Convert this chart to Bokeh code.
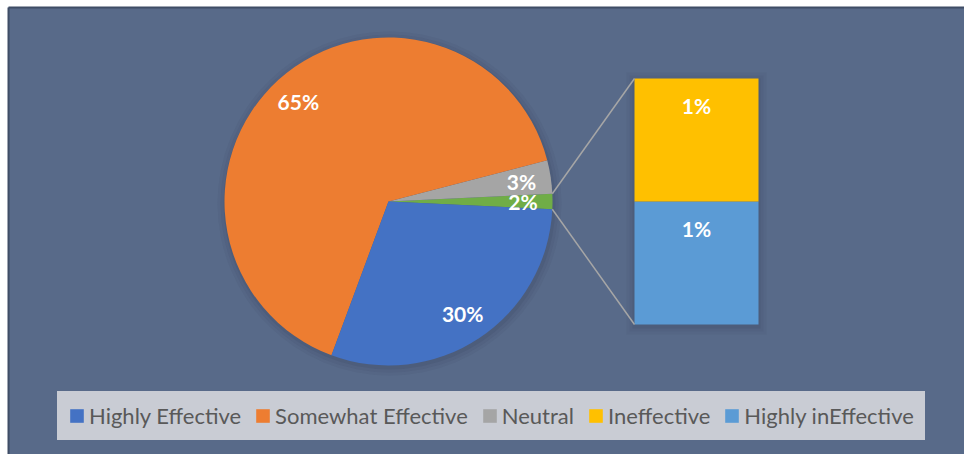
import math
from bokeh.plotting import figure
from bokeh.models import ColumnDataSource, Legend, LegendItem, Range1d
from bokeh.core.properties import value
from bokeh.embed import file_html
from bokeh.resources import INLINE

# ---- data ----
categories = ["Highly Effective", "Somewhat Effective", "Neutral", "Ineffective", "Highly inEffective"]
shares = [29.9, 65.3, 3.3, 0.75, 0.75]
colors = ["#4472c4", "#ed7d31", "#a5a5a5", "#ffc000", "#5b9bd5"]
other_color = "#70ad47"
pie_idx = [0, 1, 2]      # in pie
bar_idx = [4, 3]         # in the bar, bottom -> top

# ---- layout constants ----
W, H = 964, 454
CX, CY, R = 388, H - 201, 164
LABEL_R = 0.82 * R
BAR_LEFT, BAR_W = 634, 124
BAR_BOTTOM, BAR_H = H - 324, 246
FONT = value("Lato")
LEG_BG = "#c9ccd4"

total = sum(shares)
other = sum(shares[i] for i in bar_idx)

def pct(v):
    return f"{int(v / total * 100 + 0.5)}%"

# pie slices counterclockwise starting with the "other" slice centred at 0 deg
slice_vals = [other, shares[2], shares[1], shares[0]]
slice_cols = [other_color, colors[2], colors[1], colors[0]]
starts, ends = [], []
a = -other / total * math.pi
for v in slice_vals:
    starts.append(a)
    a += v / total * 2 * math.pi
    ends.append(a)
mids = [(s + e) / 2 for s, e in zip(starts, ends)]
pie_src = ColumnDataSource(dict(
    start=starts, end=ends, color=slice_cols,
    lx=[CX + LABEL_R * math.cos(m) for m in mids],
    ly=[CY + LABEL_R * math.sin(m) for m in mids],
    label=[pct(v) for v in slice_vals],
))

p = figure(width=W, height=H, x_range=Range1d(0, W), y_range=Range1d(0, H),
           output_backend="svg", toolbar_location=None, min_border=0)
p.axis.visible = False
p.grid.visible = False
p.outline_line_color = None
p.background_fill_color = "white"
p.border_fill_color = "white"

# panel
p.quad(left=8, right=W, bottom=0, top=H - 7, fill_color="#586a89", line_color=None)
p.segment(x0=[8, 8], y0=[H - 7, 0], x1=[W, 8], y1=[H - 7, H - 7], line_color="#3f4d66", line_width=2)

# soft shadows
for k, al in [(8, 0.05), (5, 0.06), (2, 0.08)]:
    p.circle(x=CX + 1, y=CY - 2, radius=R + k, fill_color="#1f2a3d", fill_alpha=al, line_color=None)
    p.quad(left=BAR_LEFT - k, right=BAR_LEFT + BAR_W + k, bottom=BAR_BOTTOM - k - 2, top=BAR_BOTTOM + BAR_H + k - 2,
           fill_color="#1f2a3d", fill_alpha=al, line_color=None)

wedges = p.wedge(x=CX, y=CY, radius=R, start_angle="start", end_angle="end",
                 fill_color="color", line_color=None, source=pie_src)
p.text(x="lx", y="ly", text="label", source=pie_src, text_align="center", text_baseline="middle",
       text_font=FONT, text_font_style="bold", text_font_size="21px", text_color="white")

# bar of pie
bots, tops = [], []
b = BAR_BOTTOM
for i in bar_idx:
    h = shares[i] / other * BAR_H
    bots.append(b)
    tops.append(b + h)
    b += h
bar_src = ColumnDataSource(dict(
    bottom=bots, top=tops, color=[colors[i] for i in bar_idx],
    ly=[t - 27 for t in tops], label=[pct(shares[i]) for i in bar_idx],
))
bars = p.quad(left=BAR_LEFT, right=BAR_LEFT + BAR_W, bottom="bottom", top="top",
              fill_color="color", line_color=None, source=bar_src)
p.text(x=BAR_LEFT + BAR_W / 2, y="ly", text="label", source=bar_src, text_align="center",
       text_baseline="middle", text_font=FONT, text_font_style="bold", text_font_size="21px",
       text_color="white")

# connector lines
ga = other / total * math.pi
p.segment(x0=[CX + R * math.cos(ga), CX + R * math.cos(-ga)],
          y0=[CY + R * math.sin(ga), CY + R * math.sin(-ga)],
          x1=[BAR_LEFT, BAR_LEFT], y1=[BAR_BOTTOM + BAR_H, BAR_BOTTOM],
          line_color="#a6a6a6", line_width=1.5)

# legend
items = [LegendItem(label=categories[0], renderers=[wedges], index=3),
         LegendItem(label=categories[1], renderers=[wedges], index=2),
         LegendItem(label=categories[2], renderers=[wedges], index=1),
         LegendItem(label=categories[3], renderers=[bars], index=1),
         LegendItem(label=categories[4], renderers=[bars], index=0)]
legend = Legend(items=items, orientation="horizontal", location=(57, 14),
                glyph_width=17, glyph_height=17, label_standoff=4, spacing=13, padding=10,
                background_fill_color=LEG_BG, background_fill_alpha=1,
                border_line_color=LEG_BG, border_line_width=1,
                label_text_font="Lato", label_text_font_size="22px", label_text_color="#595959",
                label_height=25)
p.add_layout(legend)

open("out.html", "w").write(file_html(p, INLINE))
